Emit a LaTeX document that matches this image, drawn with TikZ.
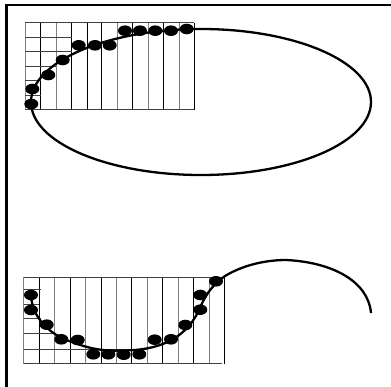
\documentclass[tikz,border=0pt]{standalone}
\usepackage{tikz}
\tikzset{
  gridline/.style={line width=1pt,black!75},
  curveline/.style={line width=2.3pt,black},
  framerule/.style={line width=2.6pt,black},
  blob/.style={black}
}
\begin{document}
\begin{tikzpicture}[x=1pt,y=-1pt]
  \useasboundingbox (0,0) rectangle (391,387);
  \draw[framerule] (391,5)--(6.5,5)--(6.5,387);
  % upper grid
  \foreach \x/\col in {25/gray,40.5/black,56/gray,71.5/black,87/black,101.5/black,117/gray,132.5/black,148/gray,163.5/black,179/gray,194/black}{
    \draw[gridline,\col] (\x,23)--(\x,110);
  }
  \foreach \y/\xend in {23/194,37.3/72,52/72,66.3/56,81/40.5,96/40.5,110/194}{
    \draw[gridline] (25,\y)--(\xend,\y);
  }
  \draw[curveline] (201,102) ellipse [x radius=170,y radius=73];
  \foreach \x/\y in {31.3/104,32.3/89,48.3/75,62.7/60,78.7/45.3,95/45.3,109.7/45.3,125/30.7,140/30.7,155.3/30.7,171/30.7,186.7/29}{
    \fill[blob] (\x,\y) ellipse [x radius=7,y radius=5.3];
  }
  % lower grid
  \foreach \x/\col in {23.5/gray,39.3/black,54.7/gray,70.3/black,85.7/gray,101.3/black,116.7/gray,131.7/black,147/gray,162.3/black,178/gray,193.3/black,209/gray,224.3/black}{
    \draw[gridline,\col] (\x,277.5)--(\x,364);
  }
  \foreach \y/\xend in {277.5/223,289.7/41,304.3/39.3,319/41,333.7/55,349.3/147,364/222}{
    \draw[gridline] (23.5,\y)--(\xend,\y);
  }
  \draw[curveline] (31,295) .. controls (32,318) and (50,335) .. (72,342)
    .. controls (95,351) and (110,351) .. (124,350.5)
    .. controls (165,350) and (188,335) .. (200,308)
    .. controls (206,293) and (214,284) .. (225,276)
    .. controls (245,264) and (268,260) .. (286,260)
    .. controls (330,262) and (368,280) .. (371,313);
  \foreach \x/\y in {31/295,31/310,46.7/324.7,61.3/339.3,77.7/340,93.3/354.3,108.3/354.3,123.7/354.7,139.3/354.3,154.7/339.7,171/339.3,185.3/325,200.3/309.7,200.3/295,216/281.3}{
    \fill[blob] (\x,\y) ellipse [x radius=7,y radius=5.3];
  }
\end{tikzpicture}
\end{document}
